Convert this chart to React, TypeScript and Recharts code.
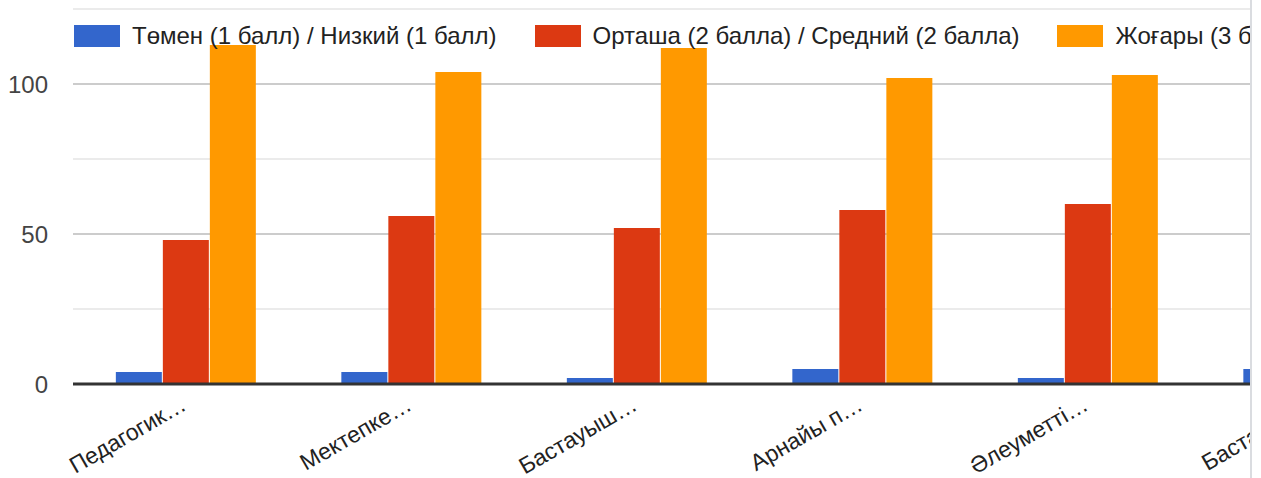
import React from "react";
import { BarChart, Bar, XAxis, YAxis, CartesianGrid, ReferenceLine } from "recharts";

const categories = ["Педагогик…", "Мектепке…", "Бастауыш…", "Арнайы п…", "Әлеуметті…", "Бастапқы…"];
const lowScores = [4, 4, 2, 5, 2, 5];
const midScores = [48, 56, 52, 58, 60, 55];
const highScores = [113, 104, 112, 102, 103, 105];

const seriesNames = [
  "Төмен (1 балл) / Низкий (1 балл)",
  "Орташа (2 балла) / Средний (2 балла)",
  "Жоғары (3 балла) / Высокий (3 балла)",
];
const seriesKeys = ["low", "mid", "high"];
const seriesColors = ["#3366cc", "#dc3912", "#ff9900"];

const yTicks = [0, 25, 50, 75, 100, 125];
const yLabels = [0, 50, 100];
const majorLines = [50, 100];
const minorLines = [25, 75, 125];

const data = categories.map((name, i) => ({
  name,
  low: lowScores[i],
  mid: midScores[i],
  high: highScores[i],
}));

const FONT = "Arial, 'Liberation Sans', sans-serif";

function YTick({ x, y, payload }: any) {
  if (!yLabels.includes(payload.value)) return null;
  return (
    <text x={x} y={y} dy={9} textAnchor="end" fontSize={24} fill="#444444" fontFamily={FONT}>
      {payload.value}
    </text>
  );
}

// slanted category labels, end of text sits under the group centre
function XTick({ x, y, payload }: any) {
  const tx = x + 2;
  const ty = y + 25;
  return (
    <text
      x={tx}
      y={ty}
      transform={`rotate(-30 ${tx} ${ty})`}
      textAnchor="end"
      fontSize={23}
      fill="#222222"
      fontFamily={FONT}
    >
      {payload.value}
    </text>
  );
}

export default function App() {
  return (
    <div
      style={{
        position: "absolute",
        left: 0,
        top: 0,
        width: 1261,
        height: 478,
        background: "#ffffff",
        overflow: "hidden",
      }}
    >
      <div style={{ position: "absolute", left: 0, top: 0, width: 1250, height: 478, overflow: "hidden" }}>
        <BarChart
          width={1430}
          height={478}
          data={data}
          margin={{ top: 9, right: 4, bottom: 0, left: 0 }}
          barCategoryGap="19%"
          barGap={1}
        >
          <CartesianGrid vertical={false} horizontalValues={minorLines} stroke="#ebebeb" strokeWidth={2} />
          <CartesianGrid vertical={false} horizontalValues={majorLines} stroke="#cccccc" strokeWidth={2} />
          <XAxis
            dataKey="name"
            interval={0}
            height={94}
            tickLine={false}
            axisLine={false}
            tickSize={0}
            tickMargin={0}
            tick={<XTick />}
          />
          <YAxis
            width={73}
            domain={[0, 125]}
            ticks={yTicks}
            interval={0}
            tickLine={false}
            axisLine={false}
            tickSize={0}
            tickMargin={25}
            tick={<YTick />}
          />
          {seriesKeys.map((k, i) => (
            <Bar key={k} dataKey={k} name={seriesNames[i]} fill={seriesColors[i]} isAnimationActive={false} />
          ))}
          <ReferenceLine y={0} stroke="#333333" strokeWidth={3} />
        </BarChart>
        <div
          style={{
            position: "absolute",
            left: 74,
            top: 24,
            display: "flex",
            alignItems: "center",
            whiteSpace: "nowrap",
            fontFamily: FONT,
            fontSize: 24,
            lineHeight: "24px",
            color: "#222222",
          }}
        >
          {seriesNames.map((n, i) => (
            <div key={n} style={{ display: "flex", alignItems: "center", marginRight: 38 }}>
              <div style={{ width: 46, height: 22, background: seriesColors[i], marginRight: 12 }} />
              <span>{n}</span>
            </div>
          ))}
        </div>
      </div>
      <div style={{ position: "absolute", left: 1250, top: 0, width: 2, height: 478, background: "#dadce0" }} />
    </div>
  );
}
